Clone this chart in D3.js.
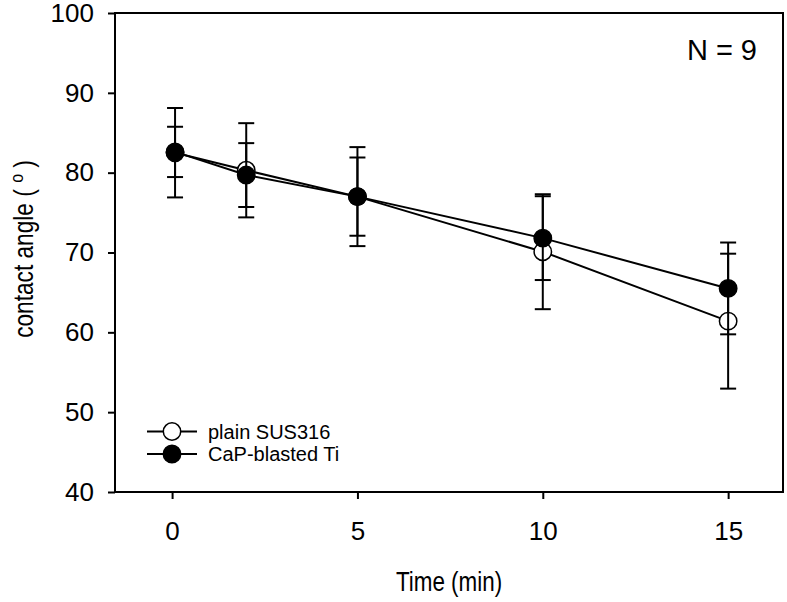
<!DOCTYPE html>
<html><head><meta charset="utf-8">
<script src="https://cdn.jsdelivr.net/npm/d3@7"></script>
<style>body{margin:0;background:#fff}svg{display:block}text{font-family:"Liberation Sans",Arial,sans-serif;fill:#000}</style>
</head><body>
<svg id="c" width="787" height="602"></svg>
<script>
const times = [0.08, 2, 5, 10, 15];
const susValues = [82.5, 80.3, 77.0, 70.1, 61.4];
const susErrors = [5.6, 5.9, 6.2, 7.2, 8.45];
const capValues = [82.6, 79.7, 77.0, 71.8, 65.5];
const capErrors = [3.15, 4.0, 4.9, 5.25, 5.75];
const xTicks = [0, 5, 10, 15];
const yTicks = [40, 50, 60, 70, 80, 90, 100];
const seriesNames = ["plain SUS316", "CaP-blasted Ti"];

const svg = d3.select("#c");
const L = 115, R = 783, T = 13, B = 492;
const x = d3.scaleLinear().domain([-1.54, 16.48]).range([L, R]);
const y = d3.scaleLinear().domain([40, 100]).range([B, T]);

const series = [
  {name: seriesNames[0], v: susValues, e: susErrors, fill: "#fff"},
  {name: seriesNames[1], v: capValues, e: capErrors, fill: "#000"}
];

svg.append("rect").attr("x", L).attr("y", T).attr("width", R - L).attr("height", B - T)
  .attr("fill", "none").attr("stroke", "#000").attr("stroke-width", 2);

const yAx = svg.append("g").attr("transform", `translate(${L},0)`)
  .call(d3.axisLeft(y).tickValues(yTicks).tickSize(7).tickPadding(14).tickFormat(d3.format("d")));
const xAx = svg.append("g").attr("transform", `translate(0,${B})`)
  .call(d3.axisBottom(x).tickValues(xTicks).tickSize(7).tickPadding(23).tickFormat(d3.format("d")));
[yAx, xAx].forEach(g => {
  g.select(".domain").remove();
  g.selectAll("line").attr("stroke", "#000").attr("stroke-width", 2);
  g.selectAll("text").attr("font-size", 26).attr("font-family", '"Liberation Sans",Arial,sans-serif').attr("fill", "#000");
});

const line = d3.line().x((d, i) => x(times[i])).y(d => y(d));
series.forEach(s => {
  const g = svg.append("g");
  g.append("path").datum(s.v).attr("d", line).attr("fill", "none").attr("stroke", "#000").attr("stroke-width", 2);
  s.v.forEach((v, i) => {
    const cx = x(times[i]);
    g.append("line").attr("x1", cx).attr("x2", cx).attr("y1", y(v + s.e[i])).attr("y2", y(v - s.e[i]))
      .attr("stroke", "#000").attr("stroke-width", 2);
    [v + s.e[i], v - s.e[i]].forEach(c => {
      g.append("line").attr("x1", cx - 8).attr("x2", cx + 8).attr("y1", y(c)).attr("y2", y(c))
        .attr("stroke", "#000").attr("stroke-width", 2);
    });
  });
  g.selectAll("circle").data(s.v).join("circle")
    .attr("cx", (d, i) => x(times[i])).attr("cy", d => y(d)).attr("r", 8.7)
    .attr("fill", s.fill).attr("stroke", "#000").attr("stroke-width", 1.5);
});

series.forEach((s, i) => {
  const ly = 431.5 + i * 22.5;
  svg.append("line").attr("x1", 147).attr("x2", 197).attr("y1", ly).attr("y2", ly).attr("stroke", "#000").attr("stroke-width", 2);
  svg.append("circle").attr("cx", 172).attr("cy", ly).attr("r", 8.7).attr("fill", s.fill).attr("stroke", "#000").attr("stroke-width", 1.5);
  svg.append("text").attr("transform", `translate(208,${ly}) scale(1.0,1)`).attr("dy", "0.36em").attr("font-size", 20).text(s.name);
});

svg.append("text").attr("x", 757).attr("y", 60).attr("text-anchor", "end").attr("font-size", 29).text("N = 9");

svg.append("text").attr("transform", `translate(${(L + R) / 2},591) scale(0.83,1)`).attr("text-anchor", "middle").attr("font-size", 27).text("Time (min)");
const yt = svg.append("text").attr("transform", `translate(33,249) rotate(-90) scale(0.84,1)`).attr("text-anchor", "middle").attr("font-size", 27);
yt.append("tspan").text("contact angle (  ");
yt.append("tspan").attr("dy", -10).attr("font-size", 19).text("o");
yt.append("tspan").attr("dy", 10).text("  )");
</script>
</body></html>
